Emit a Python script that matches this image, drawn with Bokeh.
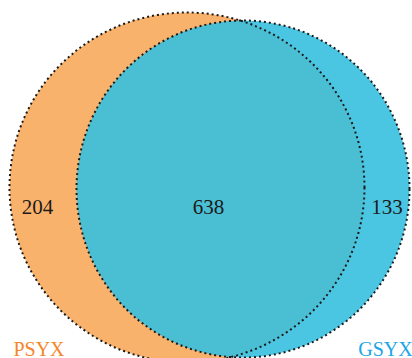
from bokeh.plotting import figure
from bokeh.models import Range1d, ColumnDataSource
from bokeh.core.properties import value
from bokeh.embed import file_html
from bokeh.resources import INLINE

# ---- data ----
set_names = ["PSYX", "GSYX"]
region_labels = ["PSYX only", "PSYX & GSYX", "GSYX only"]
region_counts = [204, 638, 133]

# ---- layout (pixel space, y measured from top) ----
W, H = 412, 358
ell_cx = [186.5, 242.5]
ell_cy = [187.0, 188.5]
ell_w = [355.0, 333.0]
ell_h = [350.0, 337.0]
fill_colors = ["#F9B26C", "#36C0E0"]
fill_alpha = [1.0, 0.9]
name_colors = ["#F5862A", "#1BA6E6"]
name_x = [38.5, 385.0]
name_y = [348.0, 348.0]
count_x = [37.0, 208.0, 386.5]
count_y = [206.0, 206.0, 206.0]

p = figure(width=W, height=H, output_backend="svg", toolbar_location=None,
           x_range=Range1d(0, W), y_range=Range1d(0, H), min_border=0)
p.axis.visible = False
p.grid.visible = False
p.outline_line_color = None
p.background_fill_color = "white"
p.border_fill_color = "white"

fy = lambda ys: [H - v for v in ys]

# fills
for i in range(2):
    p.ellipse(x=[ell_cx[i]], y=fy([ell_cy[i]]), width=[ell_w[i]], height=[ell_h[i]],
              fill_color=fill_colors[i], fill_alpha=fill_alpha[i], line_color=None)

# dotted outlines
for i in range(2):
    p.ellipse(x=[ell_cx[i]], y=fy([ell_cy[i]]), width=[ell_w[i]], height=[ell_h[i]],
              fill_alpha=0, line_color="#1a1a1a", line_width=2, line_dash="2 3")

# counts
src = ColumnDataSource(dict(x=count_x, y=fy(count_y), t=[str(c) for c in region_counts]))
p.text(x="x", y="y", text="t", source=src, text_align="center", text_baseline="middle",
       text_font=value("Liberation Serif"), text_font_size="21px", text_color="#1a1a1a")

# set names
for i in range(2):
    p.text(x=[name_x[i]], y=fy([name_y[i]]), text=[set_names[i]], text_align="center",
           text_baseline="middle", text_font=value("Liberation Serif"),
           text_font_size="20px", text_color=name_colors[i])

open("out.html", "w").write(file_html(p, INLINE))
